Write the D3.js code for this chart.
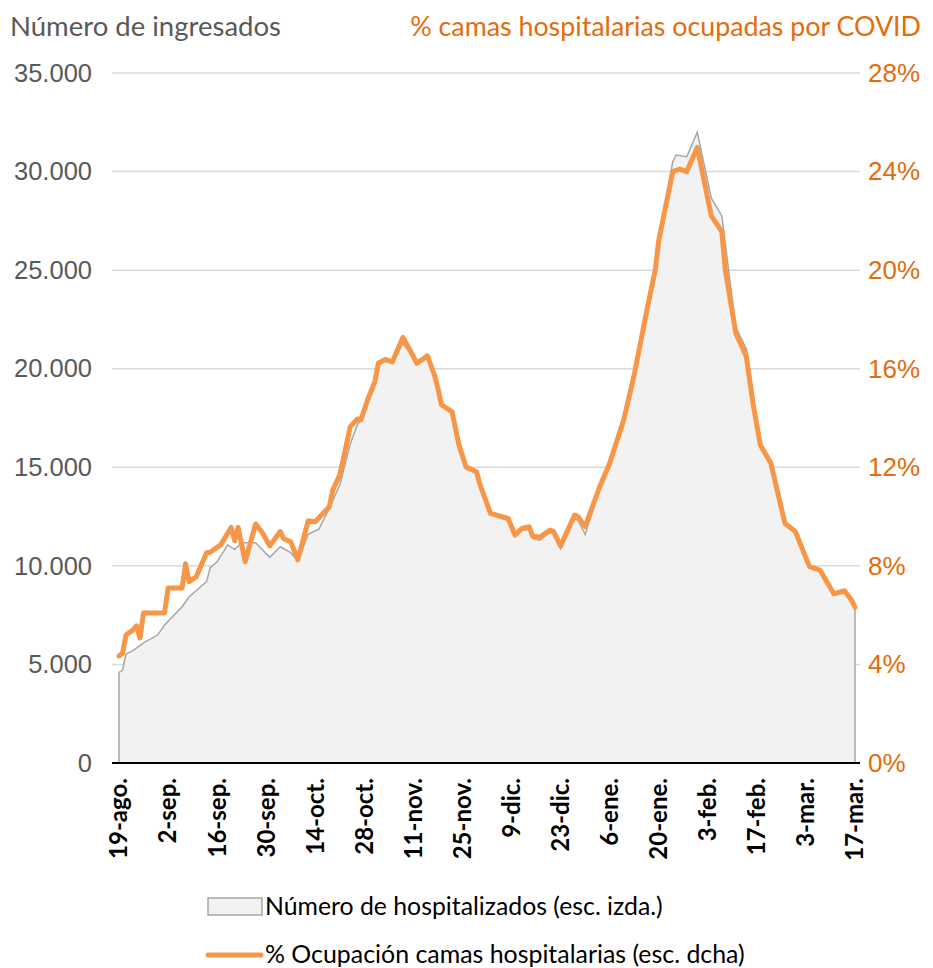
<!DOCTYPE html>
<html>
<head>
<meta charset="utf-8">
<script src="https://cdn.jsdelivr.net/npm/d3@7"></script>
<style>
  body { margin: 0; background: #fff; }
  svg { font-family: Lato, "Open Sans", sans-serif; }
</style>
</head>
<body>
<svg id="drawing_region"></svg>
<script>
// % de ocupación de camas (esc. dcha)
const pctDates = ["2020-08-19","2020-08-20","2020-08-21","2020-08-23","2020-08-24","2020-08-25","2020-08-26",
  "2020-09-01","2020-09-02","2020-09-06","2020-09-07","2020-09-08","2020-09-10","2020-09-13","2020-09-14",
  "2020-09-17","2020-09-20","2020-09-21","2020-09-22","2020-09-24","2020-09-27","2020-09-29","2020-10-01",
  "2020-10-04","2020-10-05","2020-10-07","2020-10-09","2020-10-12","2020-10-14","2020-10-18","2020-10-19",
  "2020-10-21","2020-10-24","2020-10-26","2020-10-27","2020-10-29","2020-10-31","2020-11-01","2020-11-03",
  "2020-11-05","2020-11-08","2020-11-10","2020-11-12","2020-11-15","2020-11-17","2020-11-18","2020-11-19",
  "2020-11-22","2020-11-24","2020-11-26","2020-11-29","2020-11-30","2020-12-03","2020-12-08","2020-12-10",
  "2020-12-12","2020-12-14","2020-12-15","2020-12-17","2020-12-20","2020-12-21","2020-12-23","2020-12-27",
  "2020-12-28","2020-12-30","2021-01-03","2021-01-06","2021-01-10","2021-01-13","2021-01-17","2021-01-19",
  "2021-01-20","2021-01-24","2021-01-26","2021-01-28","2021-01-31","2021-02-02","2021-02-04","2021-02-07",
  "2021-02-08","2021-02-11","2021-02-14","2021-02-16","2021-02-18","2021-02-21","2021-02-23","2021-02-25",
  "2021-02-28","2021-03-04","2021-03-07","2021-03-11","2021-03-14","2021-03-16","2021-03-17"];
const pctValues = [4.34,4.45,5.19,5.40,5.56,5.07,6.09,
  6.09,7.10,7.10,8.08,7.36,7.55,8.53,8.55,
  8.85,9.56,9.02,9.56,8.17,9.70,9.32,8.81,
  9.39,9.10,8.98,8.24,9.83,9.79,10.40,11.08,
  11.69,13.65,13.96,13.92,14.76,15.47,16.22,16.38,
  16.28,17.27,16.76,16.22,16.52,15.75,15.20,14.53,
  14.26,12.90,12.02,11.82,11.30,10.13,9.93,9.25,
  9.52,9.59,9.21,9.16,9.45,9.39,8.81,10.06,
  9.99,9.59,11.15,12.16,13.92,15.75,18.65,20.00,
  21.20,24.00,24.10,24.00,24.98,23.60,22.20,21.56,
  20.00,17.44,16.49,14.50,12.90,12.16,10.94,9.73,
  9.39,7.97,7.83,6.86,6.99,6.61,6.32];

// Número de hospitalizados (esc. izda.)
const hospDates = ["2020-08-19","2020-08-20","2020-08-21","2020-08-23","2020-08-26","2020-08-30","2020-09-01",
  "2020-09-06","2020-09-08","2020-09-10","2020-09-13","2020-09-14","2020-09-16","2020-09-19","2020-09-21",
  "2020-09-23","2020-09-27","2020-10-01","2020-10-04","2020-10-07","2020-10-09","2020-10-12","2020-10-14",
  "2020-10-15","2020-10-18","2020-10-21","2020-10-24","2020-10-26","2020-10-27","2020-10-29","2020-10-31",
  "2020-11-01","2020-11-03","2020-11-05","2020-11-08","2020-11-10","2020-11-12","2020-11-15","2020-11-17",
  "2020-11-18","2020-11-19","2020-11-22","2020-11-24","2020-11-26","2020-11-29","2020-11-30","2020-12-03",
  "2020-12-08","2020-12-10","2020-12-12","2020-12-14","2020-12-15","2020-12-17","2020-12-20","2020-12-21",
  "2020-12-23","2020-12-27","2020-12-28","2020-12-30","2021-01-03","2021-01-06","2021-01-10","2021-01-13",
  "2021-01-17","2021-01-19","2021-01-20","2021-01-24","2021-01-25","2021-01-28","2021-01-31","2021-02-04",
  "2021-02-07","2021-02-11","2021-02-14","2021-02-16","2021-02-18","2021-02-21","2021-02-23","2021-02-25",
  "2021-02-28","2021-03-04","2021-03-07","2021-03-11","2021-03-14","2021-03-16","2021-03-17"];
const hospValues = [4600,4700,5530,5700,6090,6490,7000,
  7930,8430,8740,9200,9890,10210,11060,10840,
  11170,11170,10430,10970,10670,10250,11600,11780,
  11850,12920,14100,16200,17150,17400,18450,19300,
  20200,20450,20300,21300,20800,20200,20600,19650,
  19000,18150,17800,16100,14900,14700,14000,12600,
  12300,11500,11800,11850,11400,11300,11700,11600,
  10850,12400,12300,11600,13800,15200,17400,19700,
  23300,25000,26500,30500,30840,30750,32000,28650,
  27750,22100,21000,18200,16100,15200,13700,12150,
  11750,9950,9800,8600,8750,8250,7900];

const tickLabels = ["19-ago.","2-sep.","16-sep.","30-sep.","14-oct.","28-oct.","11-nov.","25-nov.",
  "9-dic.","23-dic.","6-ene.","20-ene.","3-feb.","17-feb.","3-mar.","17-mar."];
const leftTicks = [0,5000,10000,15000,20000,25000,30000,35000];
const rightTicks = [0,4,8,12,16,20,24,28];

const parse = d3.timeParse("%Y-%m-%d");
const pctData = pctDates.map((d, i) => ({ date: parse(d), value: pctValues[i] }));
const hospData = hospDates.map((d, i) => ({ date: parse(d), value: hospValues[i] }));

const config = {
    width: 933,
    height: 968,
    margin: {top:73, right:78, bottom:205, left:119}
};

const es = d3.formatLocale({ decimal: ",", thousands: ".", grouping: [3], currency: ["", "€"] });
const fmtNum = es.format(",d");

const svg = d3.select('#drawing_region')
    .attr('width', config.width)
    .attr('height', config.height);

const chart = svg.append('g')
    .attr('transform', `translate(${config.margin.left}, ${config.margin.top})`);

const inner_width = config.width - config.margin.left - config.margin.right;
const inner_height = config.height - config.margin.top - config.margin.bottom;

const start = parse("2020-08-19");
const end = parse("2021-03-17");
const tickDates = tickLabels.map((t, i) => d3.timeDay.offset(start, i * 14));

const xscale = d3.scaleTime().domain([start, end]).range([0, inner_width]);
const yscale = d3.scaleLinear().domain([0, 35000]).range([inner_height, 0]);
const y2scale = d3.scaleLinear().domain([0, 28]).range([inner_height, 0]);

// gridlines
chart.append('g')
    .selectAll('line')
    .data(leftTicks.slice(1))
    .join('line')
    .attr('x1', -7)
    .attr('x2', inner_width + 5)
    .attr('y1', d => yscale(d))
    .attr('y2', d => yscale(d))
    .attr('stroke', '#d9d9d9')
    .attr('stroke-width', 1.5);

// left axis
const yaxis = d3.axisLeft(yscale).tickValues(leftTicks).tickFormat(fmtNum).tickSize(0).tickPadding(27);
chart.append('g')
    .call(yaxis)
    .call(g => g.select('.domain').remove())
    .selectAll('text')
    .attr('fill', '#595959')
    .style('font-size', '25.5px');

// right axis
const y2axis = d3.axisRight(y2scale).tickValues(rightTicks).tickFormat(d => d + '%').tickSize(0).tickPadding(13);
chart.append('g')
    .attr('transform', `translate(${inner_width}, 0)`)
    .call(y2axis)
    .call(g => g.select('.domain').remove())
    .selectAll('text')
    .attr('fill', '#e46c0a')
    .style('font-size', '26px');

// area
const area = d3.area()
    .x(d => xscale(d.date))
    .y0(inner_height)
    .y1(d => yscale(d.value));

chart.append('path')
    .datum(hospData)
    .attr('d', area)
    .attr('fill', '#f2f2f2')
    .attr('stroke', '#a6a6a6')
    .attr('stroke-width', 1.5);

// line
const line = d3.line()
    .x(d => xscale(d.date))
    .y(d => y2scale(d.value));

chart.append('path')
    .datum(pctData)
    .attr('d', line)
    .attr('fill', 'none')
    .attr('stroke', '#f79646')
    .attr('stroke-width', 5)
    .attr('stroke-linejoin', 'round')
    .attr('stroke-linecap', 'round');

// x axis
chart.append('line')
    .attr('x1', -7)
    .attr('x2', inner_width + 5)
    .attr('y1', inner_height)
    .attr('y2', inner_height)
    .attr('stroke', '#000')
    .attr('stroke-width', 2);

chart.append('g')
    .selectAll('text')
    .data(tickDates)
    .join('text')
    .attr('transform', d => `translate(${xscale(d)}, ${inner_height + 15}) rotate(-90)`)
    .attr('text-anchor', 'end')
    .attr('dy', '0.35em')
    .style('font-size', '24px')
    .style('font-weight', 'bold')
    .attr('fill', '#000')
    .text((d, i) => tickLabels[i]);

// titles
svg.append('text')
    .attr('x', 10)
    .attr('y', 36)
    .attr('fill', '#595959')
    .style('font-size', '27.5px')
    .text('Número de ingresados');

svg.append('text')
    .attr('x', 921)
    .attr('y', 36)
    .attr('text-anchor', 'end')
    .attr('fill', '#e46c0a')
    .style('font-size', '26.8px')
    .text('% camas hospitalarias ocupadas por COVID');

// legend
const legend = svg.append('g');
legend.append('rect')
    .attr('x', 208).attr('y', 898)
    .attr('width', 54).attr('height', 17)
    .attr('fill', '#f2f2f2')
    .attr('stroke', '#a6a6a6')
    .attr('stroke-width', 1.5);
legend.append('text')
    .attr('x', 265).attr('y', 915)
    .attr('fill', '#000')
    .style('font-size', '24.8px')
    .text('Número de hospitalizados (esc. izda.)');
legend.append('line')
    .attr('x1', 208).attr('x2', 261)
    .attr('y1', 955).attr('y2', 955)
    .attr('stroke', '#f79646')
    .attr('stroke-width', 5)
    .attr('stroke-linecap', 'round');
legend.append('text')
    .attr('x', 265).attr('y', 963)
    .attr('fill', '#000')
    .style('font-size', '24.9px')
    .text('% Ocupación camas hospitalarias (esc. dcha)');
</script>
</body>
</html>
